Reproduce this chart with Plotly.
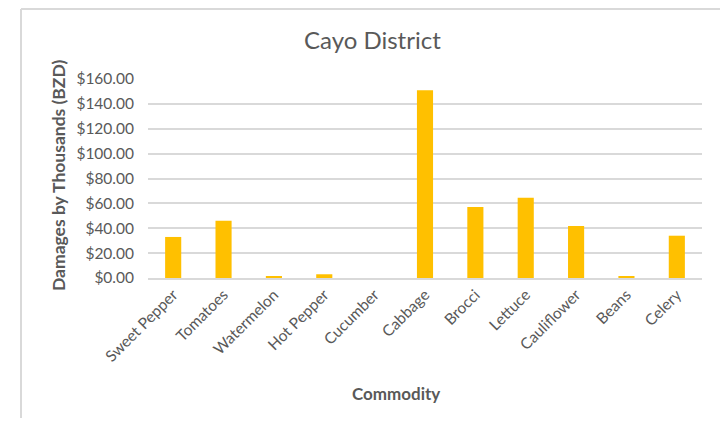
import plotly.graph_objects as go

categories = ["Sweet Pepper", "Tomatoes", "Watermelon", "Hot Pepper", "Cucumber",
              "Cabbage", "Brocci", "Lettuce", "Cauliflower", "Beans", "Celery"]
damages = [33.0, 46.0, 1.5, 3.0, 0.0, 151.0, 57.0, 64.5, 41.8, 1.5, 34.0]
y_ticks = [0, 20, 40, 60, 80, 100, 120, 140, 160]

FONT = "Lato"
GREY = "#595959"
LINE = "#D9D9D9"

OFF = 8  # page body margin
# target plot area in screen pixels
SX0, SX1, SY0, SY1 = 148, 702, 79, 278
W, H = 728 - OFF, 426 - 2 * OFF
L, T = SX0 - OFF, SY0 - OFF
R = W - (SX1 - OFF)
B = H - (SY1 - OFF)
pw, ph = W - L - R, H - T - B

def px(x):
    return (x - OFF - L) / pw

def py(y):
    return (H - B - (y - OFF)) / ph

fig = go.Figure(go.Bar(
    x=categories, y=damages,
    marker=dict(color="#FFC000", line=dict(color="#FFC000", width=0)),
    width=0.32,
))

frame = dict(color=LINE, width=2)

fig.update_layout(
    width=W, height=H,
    margin=dict(l=L, r=R, t=T, b=B),
    paper_bgcolor="white", plot_bgcolor="white",
    showlegend=False,
    font=dict(family=FONT, color=GREY, size=15),
    xaxis=dict(
        tickangle=-45, tickfont=dict(size=15.5, color=GREY, family=FONT),
        showline=True, linecolor=LINE, linewidth=1.5,
        showgrid=False, ticks="",
    ),
    yaxis=dict(
        range=[0, 160], tickvals=y_ticks, tickformat="$,.2f",
        tickfont=dict(size=15.5, color=GREY, family=FONT),
        showgrid=True, gridcolor=LINE, gridwidth=1.5,
        zeroline=False, showline=False, ticks="", ticklabelstandoff=13,
    ),
    shapes=[
        dict(type="line", xref="paper", yref="paper",
             x0=px(21), x1=px(723), y0=py(9), y1=py(9), line=frame),
        dict(type="line", xref="paper", yref="paper",
             x0=px(21), x1=px(21), y0=py(9), y1=py(430), line=frame),
        dict(type="line", xref="paper", yref="paper",
             x0=px(722), x1=px(722), y0=py(9), y1=py(430), line=frame),
    ],
    annotations=[
        dict(text="Cayo District", xref="paper", yref="paper",
             x=px(372), y=py(40), showarrow=False,
             xanchor="center", yanchor="middle",
             font=dict(size=24, color=GREY, family=FONT)),
        dict(text="<b>Damages by Thousands (BZD)</b>", xref="paper", yref="paper",
             x=px(58), y=py(176), showarrow=False, textangle=-90,
             xanchor="center", yanchor="middle",
             font=dict(size=17.5, color=GREY, family=FONT)),
        dict(text="<b>Commodity</b>", xref="paper", yref="paper",
             x=px(396), y=py(393), showarrow=False,
             xanchor="center", yanchor="middle",
             font=dict(size=17, color=GREY, family=FONT)),
    ],
)

fig.write_html("out.html")
